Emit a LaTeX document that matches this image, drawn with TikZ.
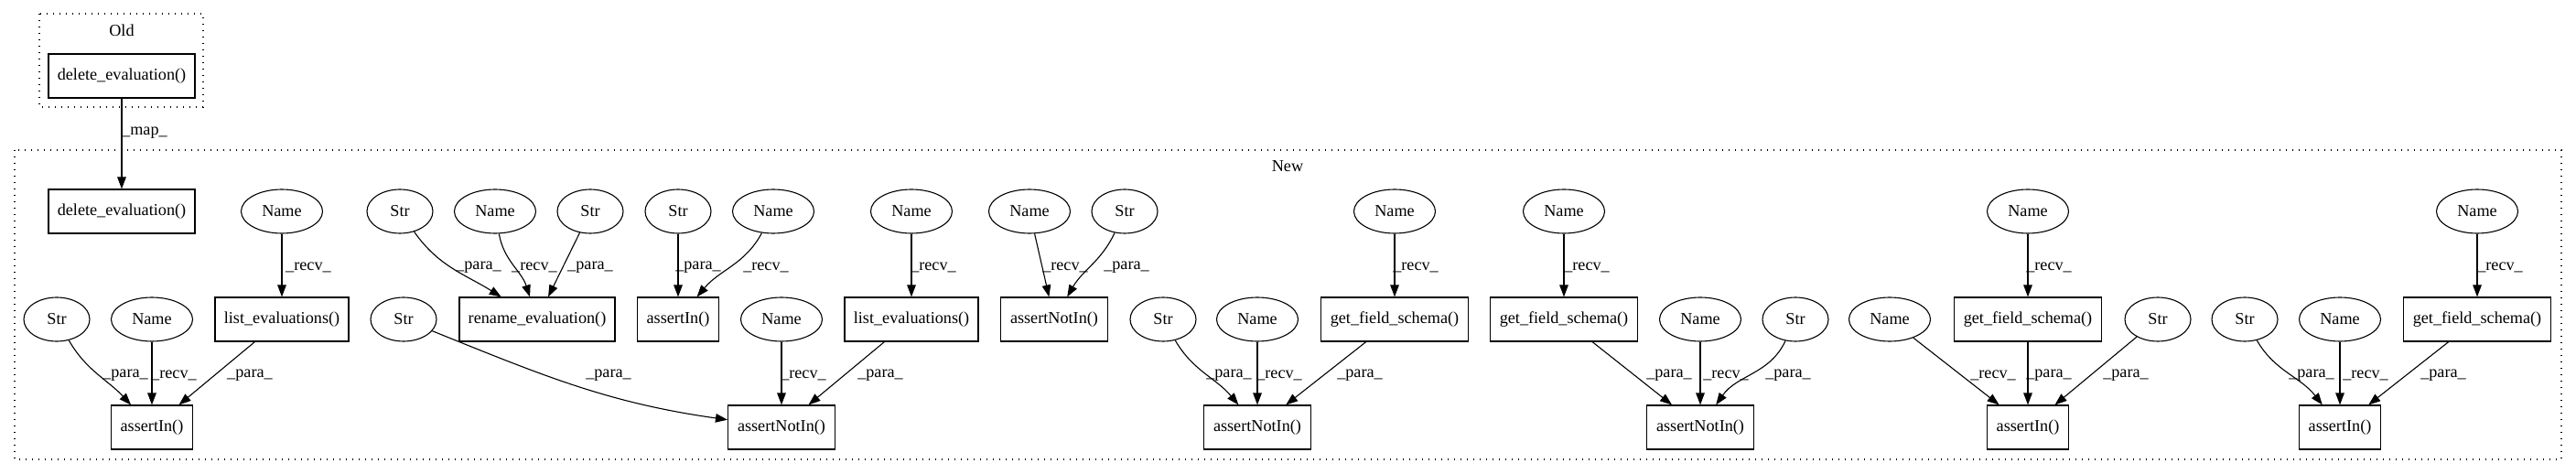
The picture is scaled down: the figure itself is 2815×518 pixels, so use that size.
\documentclass[tikz,border=0pt]{standalone}
\usepackage{fontspec}
\setmainfont{Liberation Serif}
\usetikzlibrary{arrows.meta,shapes.geometric}
\newcommand\gvfont{\fontsize{18.2}{22}\selectfont}
\tikzset{
  box/.style={draw, line width=1.1pt, minimum height=48pt, inner sep=0pt, font=\gvfont},
  ell/.style={draw, ellipse, line width=1.1pt, minimum height=48pt, inner sep=0pt, font=\gvfont},
  nm/.style={ell, minimum width=89pt},
  st/.style={ell, minimum width=72pt},
  e/.style={-{Triangle[length=13pt,width=9.5pt]}, line width=1.1pt},
  lbl/.style={font=\gvfont, inner sep=0pt},
  clus/.style={line width=1.2pt, dash pattern=on 1.3pt off 5.7pt},
}
\begin{document}
\begin{tikzpicture}[x=1pt,y=-1pt]
\useasboundingbox (0,0) rectangle (2815,518);
% clusters
\draw[clus] (43,15) rectangle (222,117);
\node[lbl] (oldlbl) at (133,33) {Old};
\draw[clus] (16,164) rectangle (2799,502);
\node[lbl] (newlbl) at (1407,182) {New};
% nodes
\node[box, minimum width=160pt] (od) at (133,83) {delete\_evaluation()};
\node[box, minimum width=160pt] (nd) at (133,231) {delete\_evaluation()};
\node[nm] (n1) at (308,231) {Name};
\node[box, minimum width=146pt] (le1) at (308,349) {list\_evaluations()};
\node[st] (s1) at (62,349) {Str};
\node[nm] (n2) at (166,349) {Name};
\node[box, minimum width=89pt] (ai1) at (166,467) {assertIn()};
\node[st] (s2) at (437,231) {Str};
\node[nm] (n3) at (541,231) {Name};
\node[st] (s3) at (645,231) {Str};
\node[box, minimum width=170pt] (ren) at (587,349) {rename\_evaluation()};
\node[st] (s4) at (741,231) {Str};
\node[nm] (n4) at (845,231) {Name};
\node[box, minimum width=89pt] (ai2) at (741,349) {assertIn()};
\node[st] (s5) at (441,349) {Str};
\node[nm] (n5) at (854,349) {Name};
\node[box, minimum width=117pt] (ani1) at (854,467) {assertNotIn()};
\node[nm] (n6) at (996,231) {Name};
\node[box, minimum width=146pt] (le2) at (996,349) {list\_evaluations()};
\node[nm] (n7) at (1125,231) {Name};
\node[st] (s6) at (1229,231) {Str};
\node[box, minimum width=117pt] (ani2) at (1152,349) {assertNotIn()};
\node[st] (s7) at (1271,349) {Str};
\node[nm] (n8) at (1374,349) {Name};
\node[box, minimum width=117pt] (ani3) at (1374,467) {assertNotIn()};
\node[nm] (n9) at (1524,231) {Name};
\node[box, minimum width=161pt] (g1) at (1524,349) {get\_field\_schema()};
\node[nm] (n10) at (1709,231) {Name};
\node[box, minimum width=161pt] (g2) at (1709,349) {get\_field\_schema()};
\node[nm] (n11) at (1858,349) {Name};
\node[st] (s8) at (1962,349) {Str};
\node[box, minimum width=117pt] (ani4) at (1858,467) {assertNotIn()};
\node[nm] (n12) at (2065,349) {Name};
\node[nm] (n13) at (2216,231) {Name};
\node[box, minimum width=161pt] (g3) at (2216,349) {get\_field\_schema()};
\node[st] (s9) at (2358,349) {Str};
\node[box, minimum width=89pt] (ai3) at (2216,467) {assertIn()};
\node[st] (s10) at (2453,349) {Str};
\node[nm] (n14) at (2557,349) {Name};
\node[box, minimum width=89pt] (ai4) at (2557,467) {assertIn()};
\node[nm] (n15) at (2707,231) {Name};
\node[box, minimum width=161pt] (g4) at (2707,349) {get\_field\_schema()};
% edges
\draw[e] (od) -- (nd);
\draw[e] (n1) -- (le1);
\draw[e] (s1) to[out=-60,in=133] (ai1);
\draw[e] (n2) -- (ai1);
\draw[e] (le1) -- (ai1);
\draw[e] (s2) to[out=-55,in=148] (ren);
\draw[e] (n3) to[out=-80,in=108] (ren);
\draw[e] (s3) -- (ren);
\draw[e] (s4) -- (ai2);
\draw[e] (n4) to[out=-118,in=50] (ai2);
\draw[e] (s5) to[out=-22,in=172] (ani1);
\draw[e] (n5) -- (ani1);
\draw[e] (le2) -- (ani1);
\draw[e] (n6) -- (le2);
\draw[e] (n7) -- (ani2);
\draw[e] (s6) to[out=-115,in=60] (ani2);
\draw[e] (s7) to[out=-60,in=130] (ani3);
\draw[e] (n8) -- (ani3);
\draw[e] (g1) -- (ani3);
\draw[e] (n9) -- (g1);
\draw[e] (n10) -- (g2);
\draw[e] (g2) -- (ani4);
\draw[e] (n11) -- (ani4);
\draw[e] (s8) to[out=-115,in=55] (ani4);
\draw[e] (n13) -- (g3);
\draw[e] (n12) -- (ai3);
\draw[e] (g3) -- (ai3);
\draw[e] (s9) -- (ai3);
\draw[e] (s10) to[out=-60,in=128] (ai4);
\draw[e] (n14) -- (ai4);
\draw[e] (g4) -- (ai4);
\draw[e] (n15) -- (g4);
% edge labels
\node[lbl] (lmap) at (158,145) {\_map\_};
\node[lbl] (l1) at (337,292) {\_recv\_};
\node[lbl] (l2) at (137,410) {\_para\_};
\node[lbl] (l3) at (190,410) {\_recv\_};
\node[lbl] (l4) at (273,410) {\_para\_};
\node[lbl] (l5) at (523,292) {\_para\_};
\node[lbl] (l6) at (584,292) {\_recv\_};
\node[lbl] (l7) at (645,292) {\_para\_};
\node[lbl] (l8) at (763,292) {\_para\_};
\node[lbl] (l9) at (837,292) {\_recv\_};
\node[lbl] (l10) at (665,410) {\_para\_};
\node[lbl] (l11) at (878,410) {\_recv\_};
\node[lbl] (l12) at (962,410) {\_para\_};
\node[lbl] (l13) at (1020,292) {\_recv\_};
\node[lbl] (l14) at (1164,292) {\_recv\_};
\node[lbl] (l15) at (1231,292) {\_para\_};
\node[lbl] (l16) at (1343,410) {\_para\_};
\node[lbl] (l17) at (1398,410) {\_recv\_};
\node[lbl] (l18) at (1486,410) {\_para\_};
\node[lbl] (l19) at (1547,292) {\_recv\_};
\node[lbl] (l20) at (1734,292) {\_recv\_};
\node[lbl] (l21) at (1824,410) {\_para\_};
\node[lbl] (l22) at (1886,410) {\_recv\_};
\node[lbl] (l23) at (1954,410) {\_para\_};
\node[lbl] (l24) at (2239,292) {\_recv\_};
\node[lbl] (l25) at (2178,410) {\_recv\_};
\node[lbl] (l26) at (2239,410) {\_para\_};
\node[lbl] (l27) at (2323,410) {\_para\_};
\node[lbl] (l28) at (2526,410) {\_para\_};
\node[lbl] (l29) at (2585,410) {\_recv\_};
\node[lbl] (l30) at (2670,410) {\_para\_};
\node[lbl] (l31) at (2732,292) {\_recv\_};
\end{tikzpicture}
\end{document}
